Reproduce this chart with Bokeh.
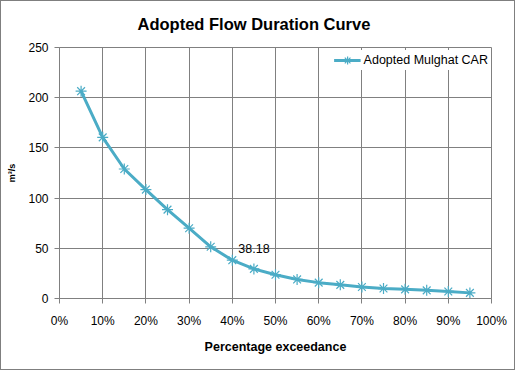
from bokeh.plotting import figure
from bokeh.models import Range1d, FixedTicker, Legend, LegendItem, ColumnDataSource
from bokeh.core.properties import value
from bokeh.embed import file_html
from bokeh.resources import INLINE

# Data
exceedance = [5, 10, 15, 20, 25, 30, 35, 40, 45, 50, 55, 60, 65, 70, 75, 80, 85, 90, 95]
flow = [206.5, 160.5, 129.0, 108.5, 88.5, 70.0, 51.5, 38.18, 29.5, 23.6, 19.0, 15.8,
        13.6, 11.4, 9.9, 9.1, 8.1, 7.0, 5.6]
x_ticks = [0, 10, 20, 30, 40, 50, 60, 70, 80, 90, 100]
x_tick_labels = ["0%", "10%", "20%", "30%", "40%", "50%", "60%", "70%", "80%", "90%", "100%"]
y_ticks = [0, 50, 100, 150, 200, 250]
series_name = "Adopted Mulghat CAR"
annot_x = [40]
annot_y = [38.18]
annot_text = ["38.18"]

FONT = "Liberation Sans"
TEAL = "#4BACC6"
GRID = "#808080"

p = figure(width=515, height=370, output_backend="svg", toolbar_location=None,
           x_range=Range1d(0, 100), y_range=Range1d(0, 250),
           min_border_left=58, min_border_right=25, min_border_top=46, min_border_bottom=73,
           background_fill_color="white", border_fill_color="white")
p.styles = {"border": "1px solid #7f7f7f"}

p.title.text = "Adopted Flow Duration Curve"
p.title.text_font = FONT
p.title.text_font_size = "16.5px"
p.title.text_font_style = "bold"
p.title.text_color = "black"
p.title.align = "left"
p.title.offset = 78
p.title.standoff = 26
p.title.vertical_align = "top"

p.outline_line_color = GRID

for ax in (p.xaxis, p.yaxis):
    ax.axis_line_color = GRID
    ax.major_tick_line_color = GRID
    ax.minor_tick_line_color = None
    ax.major_tick_in = 0
    ax.major_tick_out = 5
    ax.major_label_text_font = FONT
    ax.major_label_text_font_size = "12px"
    ax.major_label_text_color = "black"
    ax.axis_label_text_font = FONT
    ax.axis_label_text_font_style = "bold"
    ax.axis_label_text_color = "black"

p.xaxis.ticker = FixedTicker(ticks=x_ticks)
p.xaxis.major_label_overrides = {t: l for t, l in zip(x_ticks, x_tick_labels)}
p.xaxis.major_label_standoff = 10
p.xaxis.axis_label = "Percentage exceedance"
p.xaxis.axis_label_text_font_size = "12.5px"
p.xaxis.axis_label_standoff = 9

p.yaxis.ticker = FixedTicker(ticks=y_ticks)
p.yaxis.major_label_standoff = 6
p.yaxis.axis_label = "m³/s"
p.yaxis.axis_label_text_font_size = "9px"
p.yaxis.axis_label_standoff = 8

p.xgrid.ticker = FixedTicker(ticks=x_ticks)
p.ygrid.ticker = FixedTicker(ticks=y_ticks)
for g in (p.xgrid, p.ygrid):
    g.grid_line_color = GRID
    g.grid_line_width = 1

src = ColumnDataSource(dict(x=exceedance, y=flow))
ln = p.line("x", "y", source=src, line_color=TEAL, line_width=3)
mk = p.scatter("x", "y", source=src, marker="asterisk", size=11, line_color=TEAL, line_width=1.2)

p.text(x=annot_x, y=annot_y, text=annot_text, x_offset=6, y_offset=-7,
       text_font=value(FONT), text_font_size="12.5px", text_color="black",
       text_baseline="bottom", text_align="left")

legend = Legend(items=[LegendItem(label=series_name, renderers=[ln, mk])],
                location="top_right", margin=3, padding=15, glyph_width=27,
                label_standoff=3, border_line_color=None,
                background_fill_color="white", background_fill_alpha=1.0,
                label_text_font=FONT, label_text_font_size="12.5px",
                label_text_color="black")
p.add_layout(legend)

open("out.html", "w").write(file_html(p, INLINE))
